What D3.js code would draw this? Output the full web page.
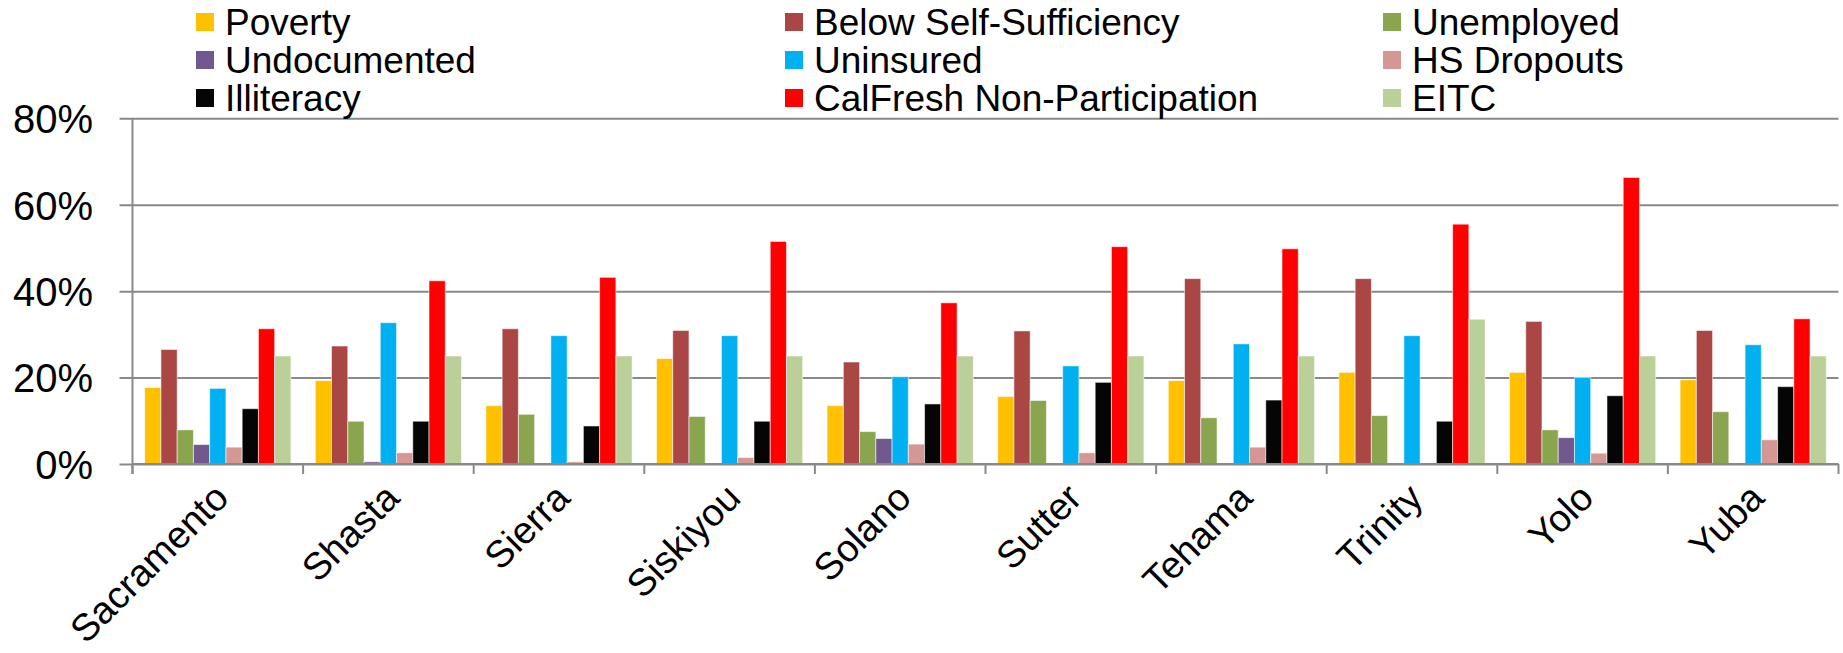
<!DOCTYPE html>
<html>
<head>
<meta charset="utf-8">
<script src="https://cdn.jsdelivr.net/npm/d3@7"></script>
<style>
  html, body { margin: 0; padding: 0; background: #fff; }
  svg { display: block; font-family: "Liberation Sans", Arial, sans-serif; }
</style>
</head>
<body>
<svg id="chart" width="1843" height="653"></svg>
<script>
// ---- data ----
const categories = ["Sacramento", "Shasta", "Sierra", "Siskiyou", "Solano", "Sutter", "Tehama", "Trinity", "Yolo", "Yuba"];
const seriesNames = ["Poverty", "Below Self-Sufficiency", "Unemployed", "Undocumented", "Uninsured", "HS Dropouts", "Illiteracy", "CalFresh Non-Participation", "EITC"];
const seriesColors = ["#FFC000", "#AA4643", "#89A54E", "#71588F", "#00B0F0", "#D49794", "#050505", "#FF0000", "#BBD098"];
const poverty      = [17.7, 19.3, 13.5, 24.4, 13.5, 15.6, 19.3, 21.2, 21.2, 19.5];
const belowSelf    = [26.5, 27.3, 31.3, 30.9, 23.6, 30.8, 42.9, 42.9, 33.0, 30.9];
const unemployed   = [7.9, 9.9, 11.5, 11.0, 7.5, 14.7, 10.7, 11.2, 7.9, 12.1];
const undocumented = [4.5, 0.5, 0, 0, 5.9, 0, 0, 0, 6.1, 0];
const uninsured    = [17.5, 32.7, 29.7, 29.7, 20.2, 22.7, 27.8, 29.7, 20.0, 27.6];
const hsDropouts   = [3.9, 2.6, 0.5, 1.5, 4.6, 2.6, 3.9, 0, 2.5, 5.6];
const illiteracy   = [12.8, 9.9, 8.8, 9.9, 13.9, 18.9, 14.8, 9.9, 15.8, 17.9];
const calfresh     = [31.3, 42.4, 43.2, 51.5, 37.3, 50.3, 49.8, 55.5, 66.3, 33.6];
const eitc         = [25, 25, 25, 25, 25, 25, 25, 33.5, 25, 25];
const yTicks = [0, 20, 40, 60, 80];
const seriesValues = [poverty, belowSelf, unemployed, undocumented, uninsured, hsDropouts, illiteracy, calfresh, eitc];

// ---- layout ----
const svg = d3.select("#chart");
const plot = { left: 132.5, right: 1838.5, top: 118.3, bottom: 464 };
const gridColor = "#898989";

const x0 = d3.scaleBand().domain(categories).range([plot.left, plot.right]).paddingInner(0).paddingOuter(0);
const x1 = d3.scaleBand().domain(seriesNames).range([0, x0.bandwidth()]).paddingInner(0).paddingOuter(0.75);
const y = d3.scaleLinear().domain([0, 80]).range([plot.bottom, plot.top]);

// gridlines + y ticks
const yAxis = d3.axisLeft(y).tickValues(yTicks).tickFormat(d => d + "%")
  .tickSize(-(plot.right - plot.left)).tickPadding(0);
const gy = svg.append("g").attr("transform", `translate(${plot.left},0)`).call(yAxis);
gy.select(".domain").remove();
gy.selectAll(".tick line").attr("stroke", gridColor).attr("stroke-width", 2).attr("x1", -13);
gy.selectAll(".tick text").attr("x", -39.5).attr("font-size", 40).attr("fill", "#000")
  .attr("font-family", "'Liberation Sans', Arial, sans-serif").attr("dy", "0.36em");

// bars
const groups = svg.append("g").selectAll("g").data(categories).join("g")
  .attr("transform", d => `translate(${x0(d)},0)`);
groups.selectAll("rect")
  .data((c, ci) => seriesNames.map((s, si) => ({ s, si, v: seriesValues[si][ci] })))
  .join("rect")
  .filter(d => d.v > 0)
  .attr("x", d => x1(d.s))
  .attr("width", x1.bandwidth())
  .attr("y", d => y(d.v))
  .attr("height", d => y(0) - y(d.v))
  .attr("fill", d => seriesColors[d.si])
  .attr("stroke", "rgba(255,255,255,0.55)")
  .attr("stroke-width", 1);

// y axis line
svg.append("line").attr("x1", plot.left).attr("x2", plot.left)
  .attr("y1", plot.top).attr("y2", plot.bottom + 10)
  .attr("stroke", gridColor).attr("stroke-width", 2);

// x axis
const xAxis = d3.axisBottom(x0).tickSize(0).tickFormat("");
const gx = svg.append("g").attr("transform", `translate(0,${plot.bottom})`).call(xAxis);
gx.select(".domain").attr("stroke", gridColor).attr("stroke-width", 2).attr("d", `M${plot.left},0H${plot.right}`);
gx.selectAll(".tick").remove();
const bounds = categories.map(c => x0(c)).concat([plot.right]);
svg.append("g").selectAll("line").data(bounds).join("line")
  .attr("x1", d => d).attr("x2", d => d)
  .attr("y1", plot.bottom).attr("y2", plot.bottom + 10)
  .attr("stroke", gridColor).attr("stroke-width", 2);

// category labels
svg.append("g").selectAll("text").data(categories).join("text")
  .attr("transform", d => `translate(${x0(d) + x0.bandwidth() / 2 + 13},${500}) rotate(-45)`)
  .attr("text-anchor", "end")
  .attr("font-size", 38)
  .attr("fill", "#000")
  .text(d => d);

// legend
const legendCols = [196, 785, 1383];
const legendRows = [22, 60, 98];
const lg = svg.append("g").selectAll("g").data(seriesNames).join("g")
  .attr("transform", (d, i) => `translate(${legendCols[i % 3]},${legendRows[Math.floor(i / 3)]})`);
lg.append("rect").attr("x", 0).attr("y", -9).attr("width", 18).attr("height", 18)
  .attr("fill", (d, i) => seriesColors[i]);
lg.append("text").attr("x", 29).attr("y", 0).attr("dy", "0.36em")
  .attr("font-size", 37).attr("fill", "#000").text(d => d);
</script>
</body>
</html>
